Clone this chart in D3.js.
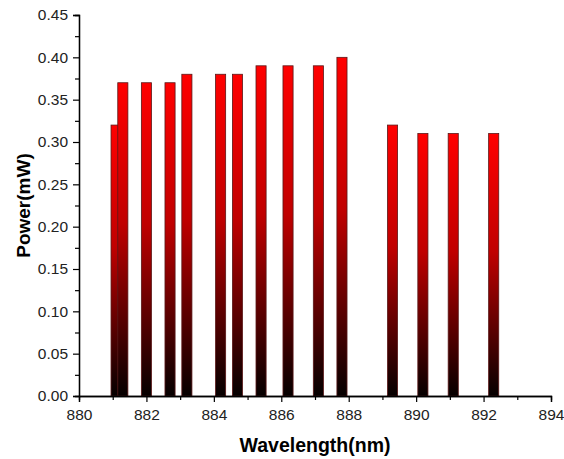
<!DOCTYPE html>
<html>
<head>
<meta charset="utf-8">
<script src="https://cdn.jsdelivr.net/npm/d3@7"></script>
<style>
  body { margin: 0; background: #fff; }
  svg text { font-family: "Liberation Sans", Arial, sans-serif; }
</style>
</head>
<body>
<svg id="chart" width="564" height="459"></svg>
<script>
const wavelengths = [881.1, 881.3, 882.0, 882.7, 883.2, 884.2, 884.7, 885.4, 886.2, 887.1, 887.8, 889.3, 890.2, 891.1, 892.3];
const powers = [0.32, 0.37, 0.37, 0.37, 0.38, 0.38, 0.38, 0.39, 0.39, 0.39, 0.40, 0.32, 0.31, 0.31, 0.31];
const xTicks = [880, 882, 884, 886, 888, 890, 892, 894];
const yTicks = [0, 0.05, 0.10, 0.15, 0.20, 0.25, 0.30, 0.35, 0.40, 0.45];

const barWidth = 0.3; // nm

const svg = d3.select("svg#chart");
const margin = {left: 79, right: 13, top: 15, bottom: 63};
const width = 564, height = 459;

const x = d3.scaleLinear().domain([880, 894]).range([margin.left, width - margin.right]);
const y = d3.scaleLinear().domain([0, 0.45]).range([height - margin.bottom, margin.top]);

// red -> black gradient, per bar
const grad = svg.append("defs").append("linearGradient")
  .attr("id", "barFill").attr("x1", 0).attr("y1", 0).attr("x2", 0).attr("y2", 1);
grad.append("stop").attr("offset", "0%").attr("stop-color", "#ff0000");
grad.append("stop").attr("offset", "45%").attr("stop-color", "#c00000");
grad.append("stop").attr("offset", "100%").attr("stop-color", "#050000");

const data = wavelengths.map((w, i) => ({w: w, p: powers[i]}));

svg.append("g").selectAll("rect.bar")
  .data(data)
  .enter()
  .append("rect")
  .attr("class", "bar")
  .attr("x", d => x(d.w - barWidth / 2))
  .attr("width", d => x(d.w + barWidth / 2) - x(d.w - barWidth / 2))
  .attr("y", d => y(d.p))
  .attr("height", d => y(0) - y(d.p))
  .attr("fill", "url(#barFill)")
  .attr("stroke", "#5a1818")
  .attr("stroke-width", 0.8);

// axes
const xAxis = svg.append("g").attr("transform", translate(0, y(0)))
  .call(d3.axisBottom(x).tickValues(xTicks).tickFormat(d3.format("d")).tickSize(6).tickPadding(7));
const xMinor = svg.append("g").attr("transform", translate(0, y(0)))
  .call(d3.axisBottom(x).tickValues(d3.range(881, 894, 2)).tickFormat("").tickSize(4));

const yAxis = svg.append("g").attr("transform", translate(x(880), 0))
  .call(d3.axisLeft(y).tickValues(yTicks).tickFormat(d3.format(".2f")).tickSize(6).tickPadding(5));
const yMinor = svg.append("g").attr("transform", translate(x(880), 0))
  .call(d3.axisLeft(y).tickValues(d3.range(0.025, 0.45, 0.05)).tickFormat("").tickSize(4));

[xAxis, xMinor, yAxis, yMinor].forEach(a => {
  a.select(".domain").attr("stroke", "#000").attr("stroke-width", 1.3);
  a.selectAll(".tick line").attr("stroke", "#000").attr("stroke-width", 1.2);
  a.selectAll("text").attr("font-size", 15.5).attr("fill", "#222")
    .style("font-family", '"Liberation Sans", Arial, sans-serif');
});

// axis titles
svg.append("text")
  .attr("x", 315).attr("y", 452)
  .attr("text-anchor", "middle")
  .attr("font-size", 19.5).attr("font-weight", "bold")
  .text("Wavelength(nm)");

svg.append("text")
  .attr("transform", "translate(30," + (y(0.225)) + ") rotate(-90)")
  .attr("text-anchor", "middle")
  .attr("font-size", 19).attr("font-weight", "bold")
  .text("Power(mW)");

function translate(x, y) {
  return "translate(" + String(x) + "," + String(y) + ")";
}
</script>
</body>
</html>
